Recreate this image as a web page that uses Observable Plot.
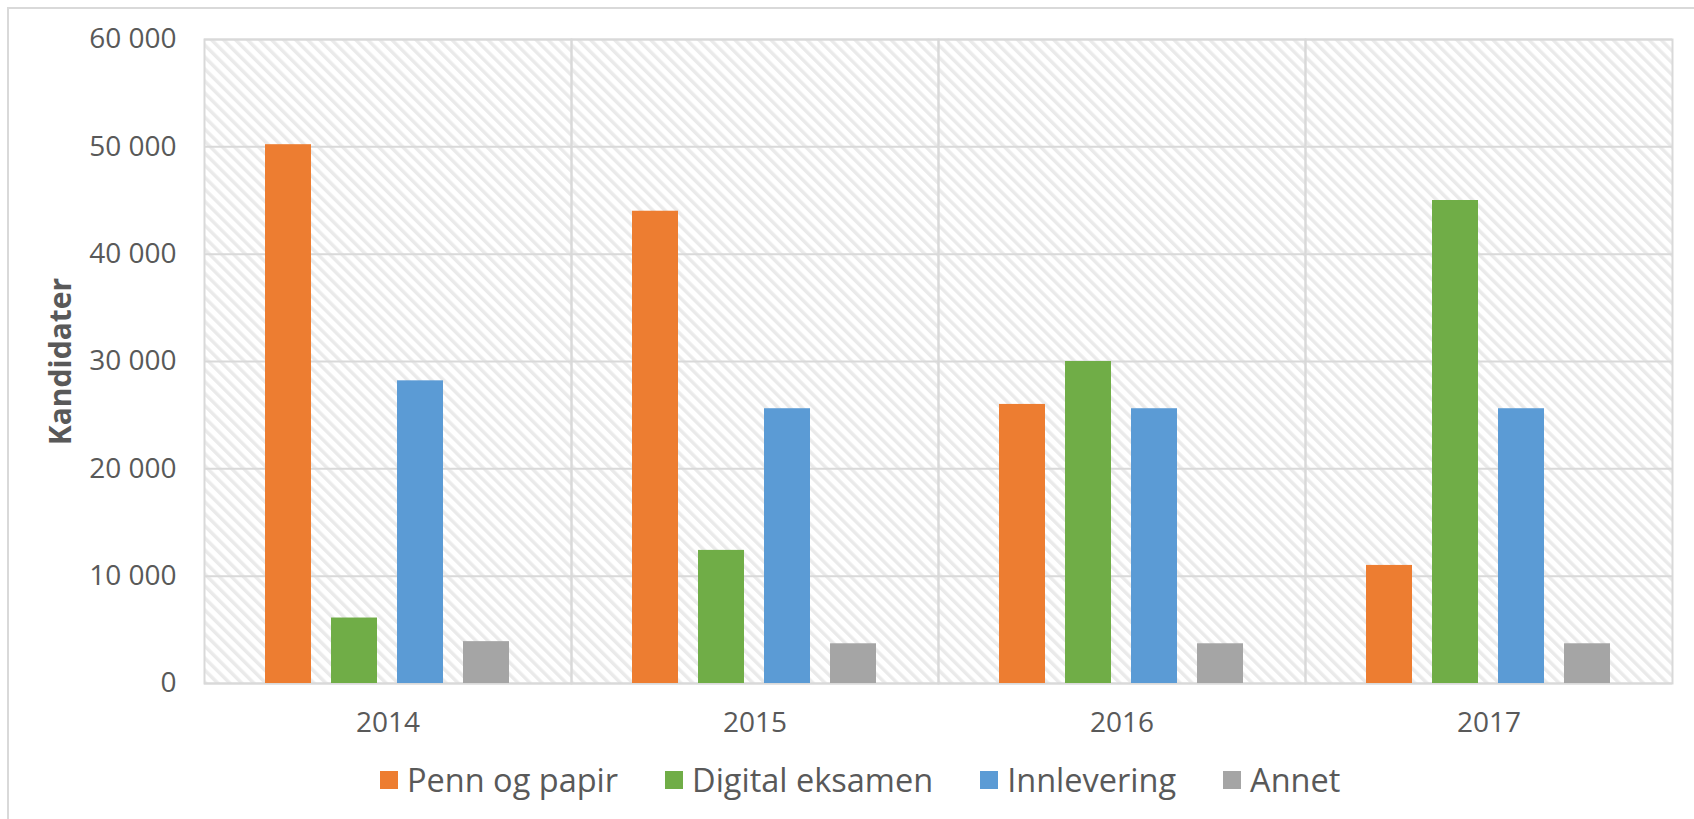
<!DOCTYPE html>
<html>
<head>
<meta charset="utf-8">
<script src="https://cdn.jsdelivr.net/npm/d3@7"></script>
<script src="https://cdn.jsdelivr.net/npm/@observablehq/plot@0.6"></script>
<style>
  html, body { margin: 0; padding: 0; background: #fff; overflow: hidden; }
  body { width: 1694px; height: 819px; position: relative; font-family: "Open Sans", sans-serif; }
  #border { position: absolute; left: 7px; top: 7px; width: 1720px; height: 900px; border: 2px solid #d9d9d9; box-sizing: border-box; }
  #chart { position: absolute; left: 0; top: 0; }
  #legend { position: absolute; left: 380px; top: 758px; display: flex; align-items: center; gap: 47px; }
  .item { display: flex; align-items: center; gap: 9px; font-size: 32.5px; color: #595959; line-height: 44px; }
  .sw { width: 18px; height: 18px; display: inline-block; }
</style>
</head>
<body>
<div id="border"></div>
<div id="chart"></div>
<div id="legend"></div>
<script>
const years = ["2014", "2015", "2016", "2017"];
const series = ["Penn og papir", "Digital eksamen", "Innlevering", "Annet"];
const colors = ["#ED7D31", "#70AD47", "#5B9BD5", "#A5A5A5"];
const pennOgPapir = [50200, 44000, 26000, 11000];
const digitalEksamen = [6100, 12400, 30000, 45000];
const innlevering = [28200, 25600, 25600, 25600];
const annet = [3900, 3700, 3700, 3700];
const yTicks = [0, 10000, 20000, 30000, 40000, 50000, 60000];

const seriesValues = [pennOgPapir, digitalEksamen, innlevering, annet];
const data = [];
years.forEach((yr, i) => {
  series.forEach((s, j) => data.push({year: yr, series: s, value: seriesValues[j][i]}));
});

const fmt = d => d3.format(",")(d).replace(/,/g, " ");

const plot = Plot.plot({
  width: 1694,
  height: 750,
  marginLeft: 203,
  marginRight: 22,
  marginTop: 39,
  marginBottom: 67,
  style: {fontFamily: "Open Sans, sans-serif", background: "transparent"},
  fx: {domain: years, padding: 0, label: null},
  x: {domain: series, paddingInner: 0.303, paddingOuter: 0.93, axis: null},
  y: {domain: [0, 60000], ticks: yTicks, label: null},
  color: {domain: series, range: colors},
  marks: [
    Plot.frame({fill: "url(#hatch)", stroke: "none"}),
    Plot.gridY(yTicks, {stroke: "#d9d9d9", strokeOpacity: 1, strokeWidth: 2}),
    Plot.frame({stroke: "#d9d9d9", strokeWidth: 2}),
    Plot.barY(data, {fx: "year", x: "series", y: "value", fill: "series"}),
    Plot.axisY(yTicks, {tickSize: 0, tickPadding: 28, tickFormat: fmt, fontSize: 28, fill: "#595959",
      label: "Kandidater", labelAnchor: "center", labelArrow: false, labelOffset: 155}),
    Plot.axisFx({anchor: "bottom", tickSize: 0, tickPadding: 29, fontSize: 28, fill: "#595959", label: null})
  ]
});

const svg = d3.select(plot);
const defs = svg.insert("defs", ":first-child");
const pat = defs.append("pattern")
  .attr("id", "hatch")
  .attr("patternUnits", "userSpaceOnUse")
  .attr("width", 8.5).attr("height", 8.5)
  .attr("patternTransform", "rotate(-45)");
pat.append("rect").attr("width", 8.5).attr("height", 8.5).attr("fill", "#ffffff");
pat.append("rect").attr("x", 0).attr("width", 3.4).attr("height", 8.5).attr("fill", "#eaeaea");

svg.selectAll('[aria-label="y-axis label"] text, [aria-label="y-axis label"]')
  .attr("font-weight", "bold").attr("font-size", 30).attr("fill", "#595959");

document.getElementById("chart").appendChild(plot);

const legend = d3.select("#legend");
series.forEach((s, i) => {
  const it = legend.append("div").attr("class", "item");
  it.append("span").attr("class", "sw").style("background", colors[i]);
  it.append("span").text(s);
});
</script>
</body>
</html>
